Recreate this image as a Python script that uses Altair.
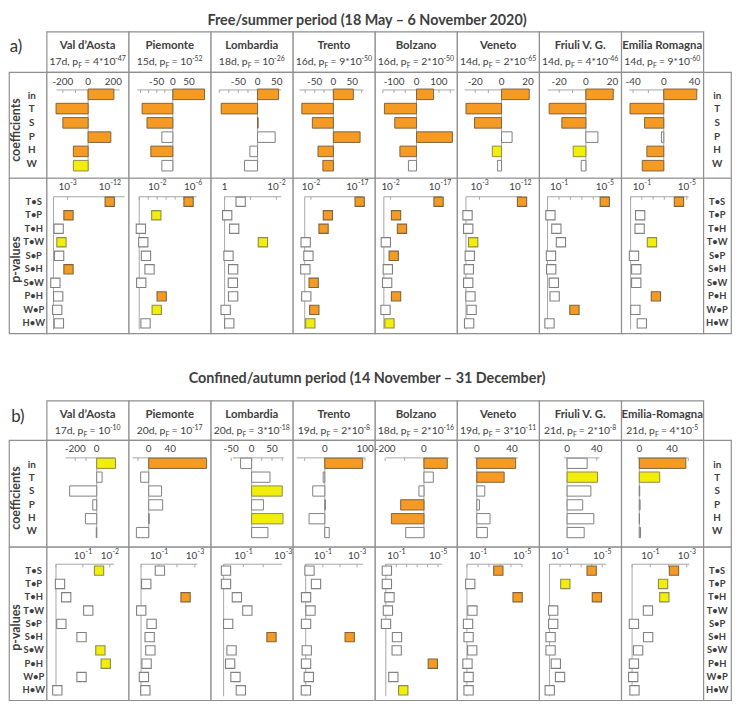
import altair as alt
import pandas as pd

# ---------------------------------------------------------------- data
COEF_VARS = ["in", "T", "S", "P", "H", "W"]
PAIRS = ["T•S", "T•P", "T•H", "T•W", "S•P", "S•H", "S•W", "P•H", "W•P", "H•W"]

A_TITLE = "Free/summer period (18 May – 6 November 2020)"
B_TITLE = "Confined/autumn period (14 November – 31 December)"

A_REGIONS = ["Val d’Aosta", "Piemonte", "Lombardia", "Trento", "Bolzano",
             "Veneto", "Friuli V. G.", "Emilia Romagna"]
A_DAYS = [17, 15, 18, 16, 16, 14, 14, 14]
A_PF_MANT = ["4*", "", "", "9*", "2*", "2*", "4*", "9*"]
A_PF_EXP = [-47, -52, -26, -50, -50, -65, -46, -60]

B_REGIONS = ["Val d’Aosta", "Piemonte", "Lombardia", "Trento", "Bolzano",
             "Veneto", "Friuli V. G.", "Emilia-Romagna"]
B_DAYS = [17, 20, 20, 19, 18, 19, 21, 21]
B_PF_MANT = ["", "", "3*", "2*", "2*", "3*", "2*", "4*"]
B_PF_EXP = [-10, -17, -18, -8, -16, -11, -8, -5]

# coefficients (in, T, S, P, H, W) per region
A_COEF = [
    [204, -254, -200, 180, -117, -117],
    [98, -95, -80, -34, -68, -34],
    [55, -95, 1.5, 46, -20, -34],
    [53, -84, -56, 71, -41, -28],
    [76, -143, -97, 160, -74, -36],
    [21, -27, -20.5, 8, -7, -3],
    [20.5, -27.5, -18, 9, -9.5, -3.5],
    [43, -44, -25, -3, -22, -28],
]
# significance class of each coefficient: O = p<0.01, Y = p<0.05, W = n.s.
A_COEF_SIG = ["OOOOOY", "OOOWOW", "OOOWWW", "OOOOOO", "OOOOOW", "OOOWYW", "OOOWYW", "OOOWOO"]
A_COEF_DOMAIN = [(-250, 250), (-110, 98), (-100, 62), (-90, 80), (-150, 170),
                 (-28, 22), (-28.5, 21.5), (-45, 45)]
A_COEF_TICKS = [[-200, 0, 200], [-50, 0, 50], [-50, 0, 50], [-50, 0, 50],
                [-100, 0, 100], [-20, 0, 20], [-20, 0, 20], [-40, 0, 40]]

# -log10(p) of the interaction terms (T•S ... H•W)
A_LOGP = [
    [12.0, 3.2, 1.1, 1.7, 1.2, 3.2, 0.4, 1.0, 0.8, 1.15],
    [5.5, 1.9, 0.18, 0.45, 0.75, 1.15, 0.22, 2.5, 1.95, 0.7],
    [0.62, 0.1, 0.37, 1.48, 0.15, 0.33, 0.32, 0.33, 0.04, 0.18],
    [17.8, 7.5, 6.1, 0.3, 1.2, 0.2, 2.9, 0.5, 3.1, 1.8],
    [16.6, 3.7, 5.5, 0.6, 3.0, 1.2, 1.0, 3.7, 0.5, 1.7],
    [12.4, 0.35, 0.5, 1.6, 0.85, 0.63, 0.5, 1.0, 1.25, 0.7],
    [5.0, 0.25, 0.77, 1.17, 0.3, 0.32, 0.55, 0.62, 2.35, 0.17],
    [4.3, 0.85, 0.8, 1.9, 0.3, 0.5, 0.5, 2.25, 0.42, 1.0],
]
A_P_MAX = [15.2, 6.4, 2.19, 18.9, 17.7, 12.4, 5.4, 5.15]
A_P_TICKS = [[3, 12], [2, 6], [0, 2], [2, 17], [2, 17], [3, 12], [1, 5], [1, 5]]

B_COEF = [
    [175, 50, -252, -37, -105, -4],
    [108, -15, 24, 26, 1, -23],
    [-27, 45, 75, 29, 77, 40],
    [94, -4, -30, 1.5, -39, 11],
    [120, 48, -26, -120, -168, -94],
    [44, 31, 9, 3, 15, 12],
    [27, 41, 32, 21, 36, 23],
    [57, 25, 0.5, 1, 0.2, 1.5],
]
B_COEF_SIG = ["YWWWWW", "OWWWWW", "WWYWYW", "OWWWWW", "OWWOOW", "OOWWWW", "WYWWWW", "OYWWWW"]
B_COEF_DOMAIN = [(-290, 175), (-30, 108), (-46, 79), (-70, 100), (-195, 128),
                 (-3, 47), (-4, 43.6), (-2.4, 60)]
B_COEF_TICKS = [[-200, 0], [0, 40], [-50, 0, 50], [0, 100], [-200, 0],
                [0, 40], [0, 40], [0, 40]]

B_LOGP = [
    [1.6, 0.15, 0.38, 1.2, 0.2, 0.95, 1.65, 1.85, 0.95, 0.05],
    [1.05, 0.29, 2.48, 0.01, 0.59, 0.48, 0.52, 0.31, 0.16, 0.24],
    [0.12, 0.12, 0.67, 1.2, 0.23, 2.42, 0.4, 0.33, 0.6, 0.87],
    [0.22, 0.6, 0.02, 0.28, 0.02, 2.57, 0.06, 0.02, 0.18, 0.01],
    [0.1, 0.1, 0.35, 0.2, 0.02, 1.07, 1.04, 4.5, 0.72, 1.67],
    [2.85, 0.3, 4.6, 0.5, 0.1, 0.15, 0.48, 0.05, 0.15, 0.15],
    [4.0, 1.5, 4.5, 0.35, 0.35, 0.1, 0.1, 0.6, 1.0, 0.02],
    [2.3, 1.7, 1.77, 0.87, 0.1, 0.88, 0.33, 0.1, 0.06, 0.13],
]
B_P_MAX = [2.15, 3.13, 2.95, 3.35, 5.4, 5.0, 5.4, 3.15]
B_P_TICKS = [[1, 2], [1, 3], [1, 3], [1, 3], [1, 5], [1, 5], [1, 5], [1, 3]]

# ---------------------------------------------------------------- layout / style
A_COEF_RANGE = [(10.1, 73.9), (8.7, 76.7), (8.6, 71.3), (6.8, 71.4), (8, 80.6),
                (7.7, 74.3), (8.8, 76.3), (8.1, 77.9)]
A_P_RANGE = [(7, 79), (10.7, 68.7), (14, 71.3), (12, 71), (9, 68), (9, 65.7),
             (8.5, 71), (9.5, 68)]
B_COEF_RANGE = [(19.2, 69.7), (4.0, 78.8), (22.3, 73.9), (3.8, 73), (11.3, 74.7),
                (17.3, 61.9), (25.3, 61), (16.3, 67.8)]
B_P_RANGE = [(9.5, 68), (12.5, 69.3), (13, 72), (13, 71), (11, 68), (10, 65.7),
             (10.5, 68), (11, 69)]

FONT = "Lato"
TXT = "#404040"
BORDER = "#8f8f8f"
AXIS = "#a6a6a6"
ORANGE, ORANGE_EDGE = "#F59A23", "#7d6440"
YELLOW, YELLOW_EDGE = "#F2EE0C", "#8f8c45"
WHITE, WHITE_EDGE = "#ffffff", "#808080"
SIG_DOMAIN = ["O", "Y", "W"]
FILL_SCALE = alt.Scale(domain=SIG_DOMAIN, range=[ORANGE, YELLOW, WHITE])
EDGE_SCALE = alt.Scale(domain=SIG_DOMAIN, range=[ORANGE_EDGE, YELLOW_EDGE, WHITE_EDGE])

W_LEFT, W_CELL, W_RIGHT = 38, 83, 28
COL_W = [W_LEFT] + [W_CELL] * 8 + [W_RIGHT]
CELL_VIEW = alt.ViewBackground(stroke=BORDER, strokeWidth=1.2, fill="white")
NO_VIEW = alt.ViewBackground(stroke="transparent", fill="transparent")
AX_FS = 10

PERIODS = {
    "a": dict(title=A_TITLE, title_h=19, title_y=8, head_h=41, coef_h=107, p_h=157,
              coef_yr=(17.1, 99.9), p_yr=(17.2, 153.8), p_axis_y=19, p_bottom=153,
              label="a)", label_x=7, label_y=16,
              regions=A_REGIONS, days=A_DAYS, mant=A_PF_MANT, exp=A_PF_EXP,
              coef=A_COEF, sig=A_COEF_SIG, cdom=A_COEF_DOMAIN, cticks=A_COEF_TICKS,
              crange=A_COEF_RANGE, logp=A_LOGP, pmax=A_P_MAX, pticks=A_P_TICKS,
              prange=A_P_RANGE),
    "b": dict(title=B_TITLE, title_h=68, title_y=46, head_h=40, coef_h=108, p_h=155,
              coef_yr=(18.3, 98.7), p_yr=(17.3, 151.7), p_axis_y=17.5, p_bottom=151,
              label="b)", label_x=9, label_y=17,
              regions=B_REGIONS, days=B_DAYS, mant=B_PF_MANT, exp=B_PF_EXP,
              coef=B_COEF, sig=B_COEF_SIG, cdom=B_COEF_DOMAIN, cticks=B_COEF_TICKS,
              crange=B_COEF_RANGE, logp=B_LOGP, pmax=B_P_MAX, pticks=B_P_TICKS,
              prange=B_P_RANGE),
}

CHAR_W = {c: 0.58 for c in "0123456789"}
CHAR_W.update({" ": 0.2, ",": 0.23, "d": 0.58, "p": 0.58, "F": 0.5, "=": 0.58,
               "*": 0.42, "-": 0.38})


def tw(s, fs):
    return sum(CHAR_W.get(c, 0.55) for c in s) * fs


def sig_of(v):
    return "O" if v > 2 else ("Y" if v > 1.3 else "W")


def text_chart(t, x, y, w, h, view, **kw):
    style = dict(font=FONT, color=TXT, fontSize=12)
    style.update(kw)
    return alt.Chart(pd.DataFrame({"t": [t]})).mark_text(**style).encode(
        x=alt.value(x), y=alt.value(y), text="t:N"
    ).properties(width=w, height=h, view=view)


def header_cell(name, days, mant, exp, h):
    fs, fss = 10.5, 7
    pieces = [(f"{days}d, p", fs, 0, 0), ("F", fss, 2.5, 0.3),
              (f"= {mant}10", fs, 0, 2.5), (f"{exp}", fss, -4.5, 0.3)]
    total = sum(tw(t, s) + g for t, s, _, g in pieces)
    x = W_CELL / 2 - total / 2
    rows = []
    for t, s, dy, gap in pieces:
        x += gap
        rows.append({"t": t, "px": x, "py": 34 + dy, "fs": s})
        x += tw(t, s)
    info = alt.Chart(pd.DataFrame(rows)).mark_text(
        align="left", baseline="alphabetic", font=FONT, color=TXT
    ).encode(
        x=alt.X("px:Q", scale=None), y=alt.Y("py:Q", scale=None),
        size=alt.Size("fs:Q", scale=None, legend=None), text="t:N")
    title = alt.Chart(pd.DataFrame({"t": [name]})).mark_text(
        font=FONT, fontSize=11.5, fontWeight="bold", color=TXT
    ).encode(x=alt.value(W_CELL / 2), y=alt.value(14.5), text="t:N")
    return alt.layer(title, info).properties(width=W_CELL, height=h, view=CELL_VIEW)


def coef_cell(vals, sigs, dom, rng, ticks, h, yr):
    xs = alt.Scale(domain=list(dom), range=list(rng), zero=False, nice=False)
    ys = alt.Scale(domain=COEF_VARS, range=list(yr), paddingInner=0.26, paddingOuter=0)

    def X(f):
        return alt.X(f, scale=xs, axis=None)

    df = pd.DataFrame({"var": COEF_VARS, "value": vals, "sig": list(sigs)})
    bars = alt.Chart(df).mark_bar(strokeWidth=1).encode(
        x=X("value:Q"), x2=alt.datum(0),
        y=alt.Y("var:N", scale=ys, axis=None),
        fill=alt.Fill("sig:N", scale=FILL_SCALE, legend=None),
        stroke=alt.Stroke("sig:N", scale=EDGE_SCALE, legend=None))
    axis_line = alt.Chart(pd.DataFrame({"a": [dom[0]], "b": [dom[1]]})).mark_rule(
        color=AXIS, strokeWidth=1).encode(x=X("a:Q"), x2="b:Q", y=alt.value(18))
    zero_line = alt.Chart(pd.DataFrame({"z": [0]})).mark_rule(
        color=AXIS, strokeWidth=1).encode(x=X("z:Q"), y=alt.value(18), y2=alt.value(yr[1]))
    step = (ticks[1] - ticks[0]) / 2
    minor = []
    k = 0
    while ticks[0] + k * step <= dom[1] + 1e-9:
        minor.append(ticks[0] + k * step)
        k += 1
    k = 1
    while ticks[0] - k * step >= dom[0] - 1e-9:
        minor.append(ticks[0] - k * step)
        k += 1
    tick_marks = alt.Chart(pd.DataFrame({"m": minor})).mark_rule(
        color=AXIS, strokeWidth=1).encode(x=X("m:Q"), y=alt.value(18), y2=alt.value(21))
    labels = alt.Chart(pd.DataFrame({"v": ticks, "t": [str(t) for t in ticks]})).mark_text(
        font=FONT, fontSize=AX_FS, color=TXT, baseline="middle"
    ).encode(x=X("v:Q"), y=alt.value(9.5), text="t:N")
    return alt.layer(axis_line, tick_marks, zero_line, bars, labels).properties(
        width=W_CELL, height=h, view=CELL_VIEW)


def p_cell(vals, pmax, rng, ticks, h, yr, axis_y, bottom):
    xs = alt.Scale(domain=[0, pmax], range=list(rng), zero=False, nice=False)
    ys = alt.Scale(domain=PAIRS, range=list(yr), paddingInner=0, paddingOuter=0)

    def X(f):
        return alt.X(f, scale=xs, axis=None)

    df = pd.DataFrame({"pair": PAIRS, "v": vals, "sig": [sig_of(v) for v in vals]})
    squares = alt.Chart(df).mark_square(size=88, strokeWidth=1.1, opacity=1).encode(
        x=X("v:Q"), y=alt.Y("pair:N", scale=ys, axis=None),
        fill=alt.Fill("sig:N", scale=FILL_SCALE, legend=None),
        stroke=alt.Stroke("sig:N", scale=EDGE_SCALE, legend=None))
    hline = alt.Chart(pd.DataFrame({"a": [0], "b": [pmax]})).mark_rule(
        color=AXIS, strokeWidth=1).encode(x=X("a:Q"), x2="b:Q", y=alt.value(axis_y))
    vline = alt.Chart(pd.DataFrame({"z": [0]})).mark_rule(
        color=AXIS, strokeWidth=1).encode(x=X("z:Q"), y=alt.value(axis_y), y2=alt.value(bottom))
    if pmax <= 6.5:
        minor = list(range(0, int(pmax) + 1))
    else:
        minor = list(ticks)
    tick_marks = alt.Chart(pd.DataFrame({"m": minor})).mark_rule(
        color=AXIS, strokeWidth=1).encode(x=X("m:Q"), y=alt.value(axis_y),
                                          y2=alt.value(axis_y + 3))
    layers = [hline, tick_marks, vline]
    for t in ticks:
        d = pd.DataFrame({"v": [t]})
        if t == 0:
            layers.append(alt.Chart(d).mark_text(
                text="1", font=FONT, fontSize=AX_FS, color=TXT, baseline="middle"
            ).encode(x=X("v:Q"), y=alt.value(9)))
        else:
            e = f"-{t}"
            wb, we = tw("10", AX_FS), tw(e, 7)
            off = -(wb + we) / 2 + wb
            layers.append(alt.Chart(d).mark_text(
                text="10", font=FONT, fontSize=AX_FS, color=TXT, baseline="middle",
                align="right", dx=off).encode(x=X("v:Q"), y=alt.value(9)))
            layers.append(alt.Chart(d).mark_text(
                text=e, font=FONT, fontSize=7, color=TXT, baseline="middle",
                align="left", dx=off + 0.3, dy=-4).encode(x=X("v:Q"), y=alt.value(9)))
    layers.append(squares)
    return alt.layer(*layers).properties(width=W_CELL, height=h, view=CELL_VIEW)


def label_cell(cats, w, h, yr, x, fs, title=None, title_x=0, title_y=0):
    ys = alt.Scale(domain=cats, range=list(yr), paddingInner=0, paddingOuter=0)
    labs = alt.Chart(pd.DataFrame({"c": cats})).mark_text(
        font=FONT, fontSize=fs, fontWeight="bold", color=TXT, baseline="middle"
    ).encode(x=alt.value(x), y=alt.Y("c:N", scale=ys, axis=None), text="c:N")
    layers = [labs]
    if title:
        layers.append(alt.Chart(pd.DataFrame({"t": [title]})).mark_text(
            font=FONT, fontSize=12.5, fontWeight="bold", color=TXT, angle=270,
            baseline="middle").encode(x=alt.value(title_x), y=alt.value(title_y), text="t:N"))
    return alt.layer(*layers).properties(width=w, height=h, view=CELL_VIEW)


def period_cells(P):
    cells = []
    # title row: the text sits in column 5 and spills over its neighbours
    for c, w in enumerate(COL_W):
        if c == 5:
            cells.append(text_chart(P["title"], -8, P["title_y"], w, P["title_h"], NO_VIEW,
                                    fontSize=14.5, fontWeight="bold", baseline="middle"))
        else:
            cells.append(text_chart("", w / 2, P["title_h"] / 2, w, P["title_h"], NO_VIEW))
    # header row
    cells.append(text_chart(P["label"], P["label_x"], P["label_y"], W_LEFT, P["head_h"],
                            NO_VIEW, fontSize=17, baseline="middle", color="#333333"))
    for i in range(8):
        cells.append(header_cell(P["regions"][i], P["days"][i], P["mant"][i], P["exp"][i],
                                 P["head_h"]))
    cells.append(text_chart("", W_RIGHT / 2, P["head_h"] / 2, W_RIGHT, P["head_h"], NO_VIEW))
    # coefficient row
    cells.append(label_cell(COEF_VARS, W_LEFT, P["coef_h"], P["coef_yr"], 23, 10,
                            "coefficients", 7, (P["coef_yr"][0] + P["coef_yr"][1]) / 2))
    for i in range(8):
        cells.append(coef_cell(P["coef"][i], P["sig"][i], P["cdom"][i], P["crange"][i],
                               P["cticks"][i], P["coef_h"], P["coef_yr"]))
    cells.append(label_cell(COEF_VARS, W_RIGHT, P["coef_h"], P["coef_yr"], 14, 10))
    # p-value row
    cells.append(label_cell(PAIRS, W_LEFT, P["p_h"], P["p_yr"], 25, 9.5, "p-values", 7,
                            (P["p_yr"][0] + P["p_yr"][1]) / 2 - 3))
    for i in range(8):
        cells.append(p_cell(P["logp"][i], P["pmax"][i], P["prange"][i], P["pticks"][i],
                            P["p_h"], P["p_yr"], P["p_axis_y"], P["p_bottom"]))
    cells.append(label_cell(PAIRS, W_RIGHT, P["p_h"], P["p_yr"], 14, 9.5))
    return cells


all_cells = period_cells(PERIODS["a"]) + period_cells(PERIODS["b"])
chart = alt.concat(*all_cells, columns=10, spacing=0, bounds="flush", align="each").resolve_scale(
    x="independent", y="independent"
).properties(padding=0, background="white").configure_view(strokeWidth=1.2)

chart.save("out.html", embed_options={"renderer": "svg", "actions": False})
